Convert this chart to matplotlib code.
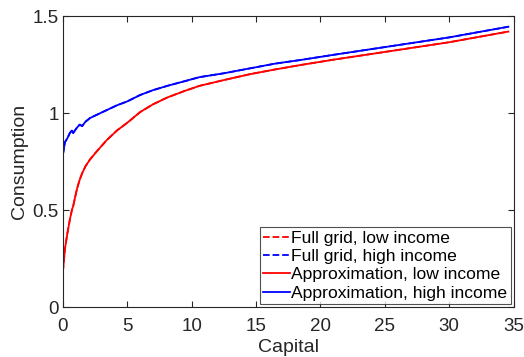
import matplotlib.pyplot as plt

plt.rcParams['font.family'] = ['Liberation Sans', 'DejaVu Sans']

# capital grid points
capital = [0.0, 0.16, 0.35, 0.54, 0.7, 0.8, 0.93, 1.1, 1.3, 1.5, 1.75, 2.1, 2.6, 3.4, 4.2, 5.0,
           6.0, 7.0, 8.1, 9.5, 10.6, 12.5, 14.5, 16.5, 18.4, 21.0, 24.0, 27.0, 30.0, 32.5, 34.6]

low_income = [0.18, 0.30, 0.38, 0.45, 0.50, 0.52, 0.56, 0.61, 0.655, 0.69, 0.725, 0.76, 0.80, 0.86, 0.91, 0.95,
              1.005, 1.045, 1.08, 1.115, 1.14, 1.17, 1.20, 1.225, 1.247, 1.275, 1.305, 1.335, 1.365, 1.395, 1.42]

high_income = [0.785, 0.85, 0.87, 0.897, 0.91, 0.897, 0.91, 0.925, 0.94, 0.933, 0.955, 0.974, 0.99, 1.015, 1.04, 1.06,
               1.093, 1.118, 1.14, 1.165, 1.185, 1.205, 1.23, 1.255, 1.273, 1.30, 1.33, 1.36, 1.39, 1.42, 1.445]

fig, ax = plt.subplots(figsize=(5.24, 3.57), dpi=100)
fig.subplots_adjust(left=0.12, right=0.98, top=0.955, bottom=0.14)

ax.plot(capital, low_income, '--', color='#ff0000', lw=1.3, label='Full grid, low income')
ax.plot(capital, high_income, '--', color='#0000ff', lw=1.3, label='Full grid, high income')
ax.plot(capital, low_income, '-', color='#ff0000', lw=1.3, label='Approximation, low income')
ax.plot(capital, high_income, '-', color='#0000ff', lw=1.3, label='Approximation, high income')

ax.set_xlim(0, 35)
ax.set_ylim(0, 1.5)
ax.set_xticks(range(0, 36, 5))
ax.set_yticks([0, 0.5, 1, 1.5])
ax.set_yticklabels(['0', '0.5', '1', '1.5'])
ax.tick_params(direction='in', top=True, right=True, labelsize=13.5, length=4,
               colors='#262626', pad=3)
ax.tick_params(axis='x', pad=8)
for s in ax.spines.values():
    s.set_color('#262626')
    s.set_linewidth(0.8)

ax.set_xlabel('Capital', fontsize=14, color='#262626', labelpad=3)
ax.set_ylabel('Consumption', fontsize=14, color='#262626', labelpad=3)

leg = ax.legend(loc='lower right', fontsize=12.6, frameon=True, fancybox=False,
                edgecolor='#262626', handlelength=1.5, handletextpad=0.1,
                borderaxespad=0.15, borderpad=0.2, labelspacing=0.18)
leg.get_frame().set_linewidth(0.8)

plt.savefig('out.png', dpi=100)
